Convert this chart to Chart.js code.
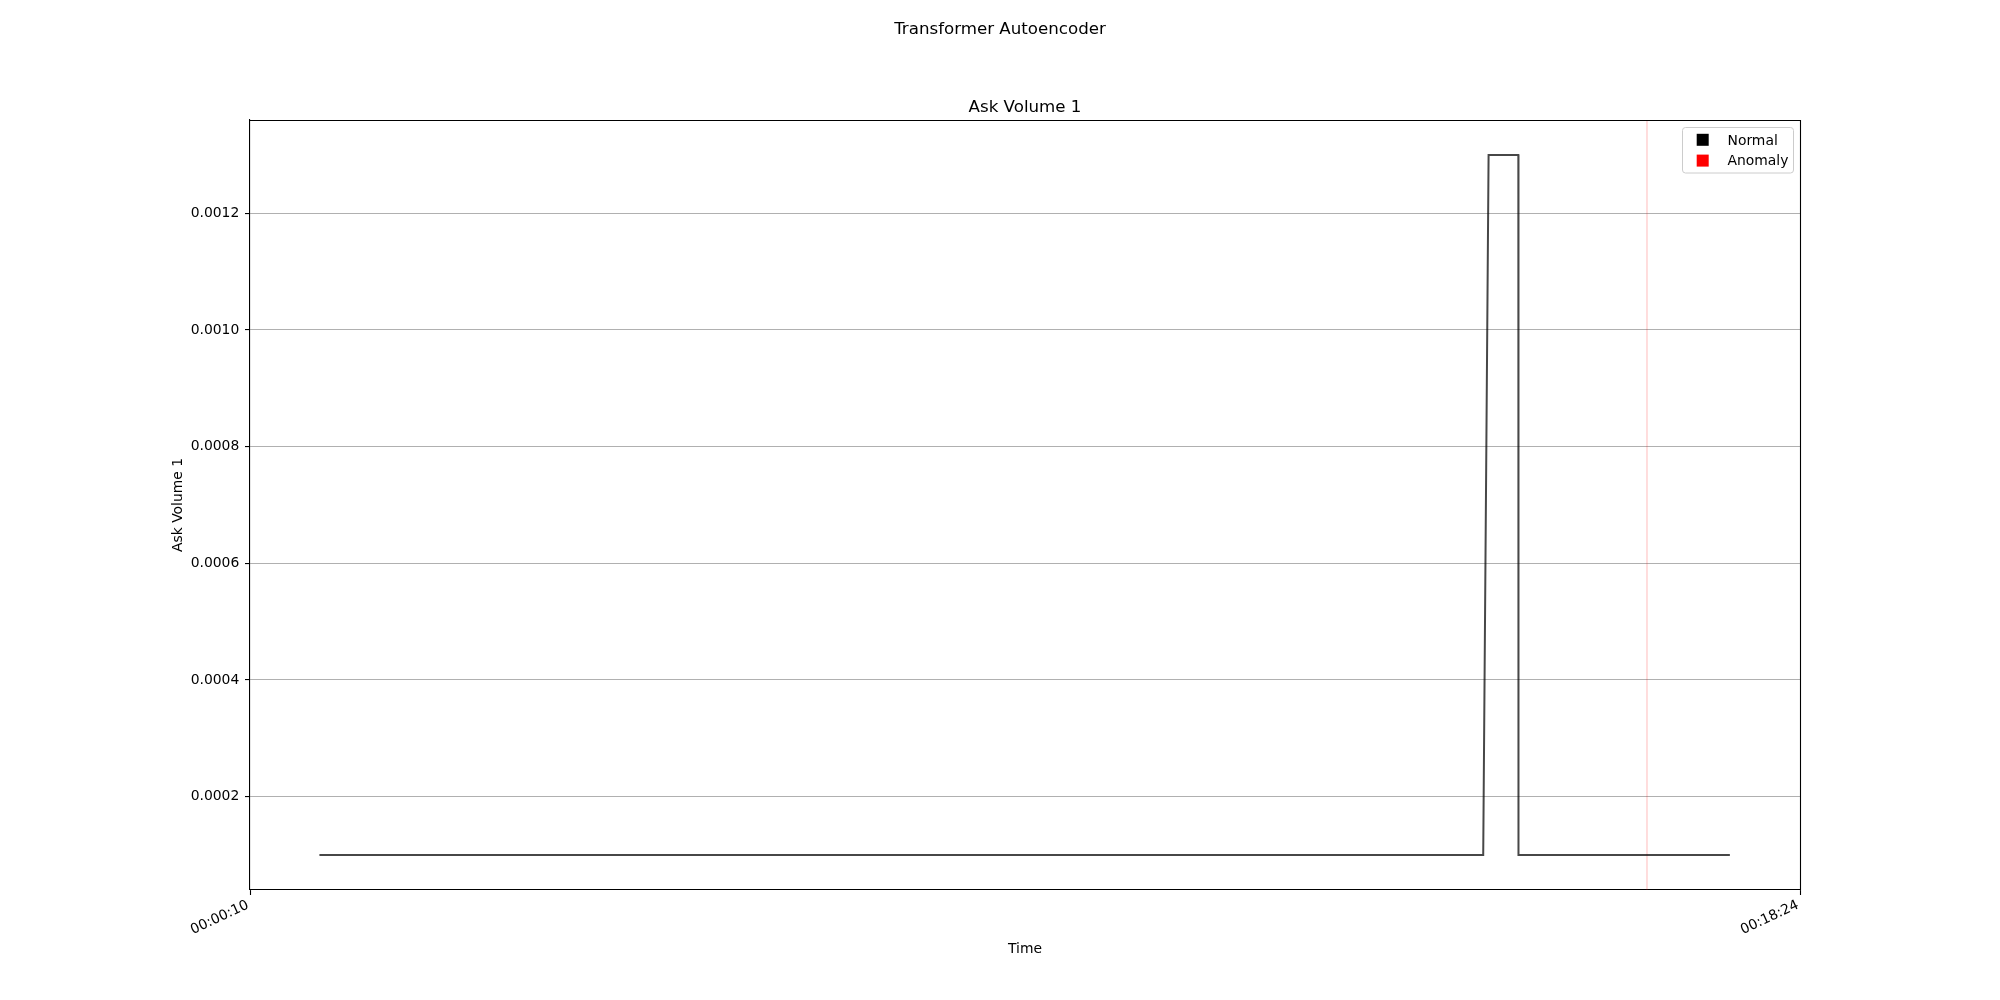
<!DOCTYPE html>
<html><head><meta charset="utf-8">
<script src="https://cdn.jsdelivr.net/npm/chart.js@4"></script>
<style>html,body{margin:0;padding:0;background:#fff;} canvas{display:block;}</style>
</head><body>
<canvas id="c" width="2000" height="1000" style="width:2000px;height:1000px"></canvas>
<script>
// ---- data ----
const figureTitle = 'Transformer Autoencoder';
const panelTitle = 'Ask Volume 1';
const xAxisTitle = 'Time';
const yAxisTitle = 'Ask Volume 1';
const timeSeconds = [59.0, 880.4, 884.2, 905.2, 905.3, 1054.5];
const askVolume   = [0.0001, 0.0001, 0.0013, 0.0013, 0.0001, 0.0001];
const anomalyTimes = [996.0];
const xRange = [10, 1104];
const yRange = [0.00004, 0.00136];
const xTickSeconds = [10, 1104];
const yTickValues = [0.0002, 0.0004, 0.0006, 0.0008, 0.0010, 0.0012];
const legendLabels = ['Normal', 'Anomaly'];
const legendColors = ['#000000', '#ff0000'];

const FONT = 'DejaVu Sans';
function fmtTime(s) {
  s = Math.round(s);
  const h = Math.floor(s / 3600), m = Math.floor((s % 3600) / 60), sec = s % 60;
  const p = n => String(n).padStart(2, '0');
  return p(h) + ':' + p(m) + ':' + p(sec);
}

const datasets = [{
  label: 'Normal',
  data: timeSeconds.map((t, i) => ({ x: t, y: askVolume[i] })),
  borderColor: 'rgba(0,0,0,0.72)',
  borderWidth: 2,
  pointRadius: 0,
  tension: 0,
  fill: false
}];
anomalyTimes.forEach(t => {
  datasets.push({
    label: 'Anomaly',
    data: [{ x: t, y: yRange[0] }, { x: t, y: yRange[1] }],
    borderColor: 'rgba(255,0,0,0.18)',
    borderWidth: 1.5,
    pointRadius: 0,
    fill: false
  });
});

const decor = {
  id: 'decor',
  afterDraw(chart) {
    const ctx = chart.ctx, a = chart.chartArea;
    ctx.save();
    // top and right spines
    ctx.strokeStyle = '#000'; ctx.lineWidth = 1.1;
    ctx.beginPath();
    ctx.moveTo(a.left, a.top + 0.5); ctx.lineTo(a.right + 0.5, a.top + 0.5);
    ctx.lineTo(a.right + 0.5, a.bottom);
    ctx.stroke();
    // titles
    ctx.fillStyle = '#000';
    ctx.textAlign = 'center'; ctx.textBaseline = 'alphabetic';
    ctx.font = '16.67px "' + FONT + '"';
    ctx.fillText(figureTitle, 1000, 33.8);
    ctx.fillText(panelTitle, (a.left + a.right) / 2, 112);
    // legend
    const lx = a.right - 118, ly = a.top + 7, lw = 111, lh = 45.5;
    ctx.beginPath();
    ctx.roundRect(lx + 0.5, ly + 0.5, lw, lh, 3);
    ctx.fillStyle = 'rgba(255,255,255,0.8)'; ctx.fill();
    ctx.strokeStyle = '#cccccc'; ctx.lineWidth = 1; ctx.stroke();
    ctx.font = '13.9px "' + FONT + '"';
    ctx.textAlign = 'left';
    legendLabels.forEach((lab, i) => {
      const cy = ly + 12.8 + i * 20.8;
      ctx.fillStyle = legendColors[i];
      ctx.fillRect(lx + 14.7, cy - 6, 12, 12);
      ctx.fillStyle = '#000';
      ctx.fillText(lab, lx + 45.5, cy + 4.8);
    });
    ctx.restore();
  }
};

new Chart(document.getElementById('c'), {
  type: 'line',
  data: { datasets },
  options: {
    responsive: false,
    animation: false,
    devicePixelRatio: 1,
    layout: { padding: { top: 120, right: 200, bottom: 0, left: 0 } },
    plugins: { legend: { display: false }, tooltip: { enabled: false }, title: { display: false } },
    scales: {
      x: {
        type: 'linear',
        min: xRange[0], max: xRange[1],
        afterBuildTicks: ax => { ax.ticks = xTickSeconds.map(v => ({ value: v })); },
        afterFit: ax => { ax.height = 110; },
        ticks: {
          callback: v => fmtTime(v),
          minRotation: 25, maxRotation: 25, autoSkip: false,
          font: { family: FONT, size: 13.9 }, color: '#000', padding: 2, labelOffset: -2
        },
        grid: { drawOnChartArea: false, tickLength: 5, tickColor: '#000', tickWidth: 1.1 },
        border: { color: '#000', width: 1.1 },
        title: { display: true, text: xAxisTitle, color: '#000', font: { family: FONT, size: 13.9 }, padding: { top: 0, bottom: 42 } }
      },
      y: {
        type: 'linear',
        min: yRange[0], max: yRange[1],
        afterBuildTicks: ax => { ax.ticks = yTickValues.map(v => ({ value: v })); },
        afterFit: ax => { ax.width = 250; },
        ticks: {
          callback: v => Number(v).toFixed(4),
          font: { family: FONT, size: 13.9 }, color: '#000', padding: 5.7
        },
        grid: { color: '#b0b0b0', lineWidth: 1.1, tickLength: 5, tickColor: '#000', tickWidth: 1.1 },
        border: { color: '#000', width: 1.1 },
        title: { display: true, text: yAxisTitle, color: '#000', font: { family: FONT, size: 13.9 }, padding: { top: 170.5, bottom: 0 } }
      }
    }
  },
  plugins: [decor]
});
</script>
</body></html>
